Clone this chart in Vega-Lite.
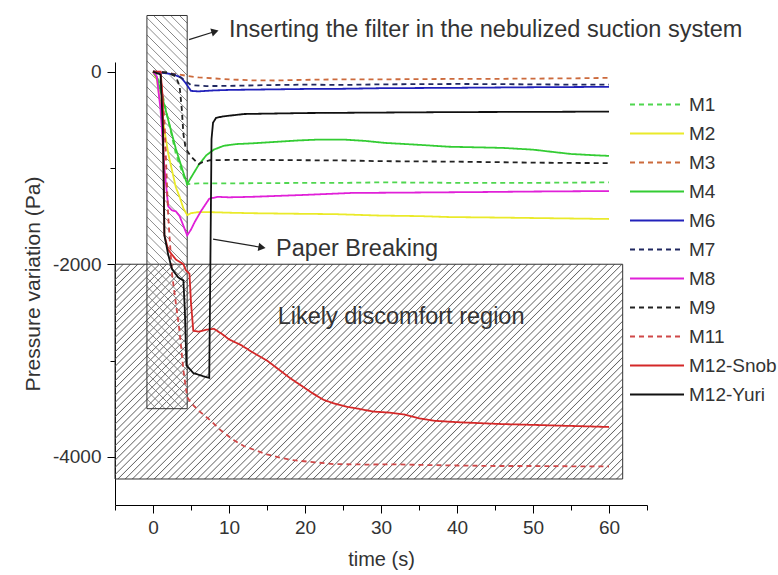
{
"$schema":"https://vega.github.io/schema/vega-lite/v6.json",
"width":532,"height":443,"autosize":"none",
"padding":{"left":115,"top":62,"right":131,"bottom":70},
"background":"white",
"config":{"view":{"stroke":null},"font":"Liberation Sans"},
"resolve":{"axis":{"x":"independent","y":"independent"}},
"encoding":{
"x":{"field":"t","type":"quantitative","scale":{"domain":[-5,65],"nice":false,"zero":false},"axis":null},
"y":{"field":"v","type":"quantitative","scale":{"domain":[-4500,100],"nice":false,"zero":false},"axis":null}
},
"layer":[
{"data":{"values":[{"t":-5,"t2":61.8,"v":-2000,"v2":-4230}]},
"mark":{"type":"rect","stroke":"#333","strokeWidth":1,"fill":{"gradient":"linear","x1":0,"y1":0,"x2":1.207,"y2":0.511,"stops":[
{"offset":0,"color":"#6660"},{"offset":0.0015,"color":"#666"},{"offset":0.003,"color":"#6660"},
{"offset":0.01,"color":"#6660"},{"offset":0.0115,"color":"#666"},{"offset":0.013,"color":"#6660"},
{"offset":0.02,"color":"#6660"},{"offset":0.0215,"color":"#666"},{"offset":0.023,"color":"#6660"},
{"offset":0.03,"color":"#6660"},{"offset":0.0315,"color":"#666"},{"offset":0.033,"color":"#6660"},
{"offset":0.04,"color":"#6660"},{"offset":0.0415,"color":"#666"},{"offset":0.043,"color":"#6660"},
{"offset":0.05,"color":"#6660"},{"offset":0.0515,"color":"#666"},{"offset":0.053,"color":"#6660"},
{"offset":0.06,"color":"#6660"},{"offset":0.0615,"color":"#666"},{"offset":0.063,"color":"#6660"},
{"offset":0.07,"color":"#6660"},{"offset":0.0715,"color":"#666"},{"offset":0.073,"color":"#6660"},
{"offset":0.08,"color":"#6660"},{"offset":0.0815,"color":"#666"},{"offset":0.083,"color":"#6660"},
{"offset":0.09,"color":"#6660"},{"offset":0.0915,"color":"#666"},{"offset":0.093,"color":"#6660"},
{"offset":0.10,"color":"#6660"},{"offset":0.1015,"color":"#666"},{"offset":0.103,"color":"#6660"},
{"offset":0.11,"color":"#6660"},{"offset":0.1115,"color":"#666"},{"offset":0.113,"color":"#6660"},
{"offset":0.12,"color":"#6660"},{"offset":0.1215,"color":"#666"},{"offset":0.123,"color":"#6660"},
{"offset":0.13,"color":"#6660"},{"offset":0.1315,"color":"#666"},{"offset":0.133,"color":"#6660"},
{"offset":0.14,"color":"#6660"},{"offset":0.1415,"color":"#666"},{"offset":0.143,"color":"#6660"},
{"offset":0.15,"color":"#6660"},{"offset":0.1515,"color":"#666"},{"offset":0.153,"color":"#6660"},
{"offset":0.16,"color":"#6660"},{"offset":0.1615,"color":"#666"},{"offset":0.163,"color":"#6660"},
{"offset":0.17,"color":"#6660"},{"offset":0.1715,"color":"#666"},{"offset":0.173,"color":"#6660"},
{"offset":0.18,"color":"#6660"},{"offset":0.1815,"color":"#666"},{"offset":0.183,"color":"#6660"},
{"offset":0.19,"color":"#6660"},{"offset":0.1915,"color":"#666"},{"offset":0.193,"color":"#6660"},
{"offset":0.20,"color":"#6660"},{"offset":0.2015,"color":"#666"},{"offset":0.203,"color":"#6660"},
{"offset":0.21,"color":"#6660"},{"offset":0.2115,"color":"#666"},{"offset":0.213,"color":"#6660"},
{"offset":0.22,"color":"#6660"},{"offset":0.2215,"color":"#666"},{"offset":0.223,"color":"#6660"},
{"offset":0.23,"color":"#6660"},{"offset":0.2315,"color":"#666"},{"offset":0.233,"color":"#6660"},
{"offset":0.24,"color":"#6660"},{"offset":0.2415,"color":"#666"},{"offset":0.243,"color":"#6660"},
{"offset":0.25,"color":"#6660"},{"offset":0.2515,"color":"#666"},{"offset":0.253,"color":"#6660"},
{"offset":0.26,"color":"#6660"},{"offset":0.2615,"color":"#666"},{"offset":0.263,"color":"#6660"},
{"offset":0.27,"color":"#6660"},{"offset":0.2715,"color":"#666"},{"offset":0.273,"color":"#6660"},
{"offset":0.28,"color":"#6660"},{"offset":0.2815,"color":"#666"},{"offset":0.283,"color":"#6660"},
{"offset":0.29,"color":"#6660"},{"offset":0.2915,"color":"#666"},{"offset":0.293,"color":"#6660"},
{"offset":0.30,"color":"#6660"},{"offset":0.3015,"color":"#666"},{"offset":0.303,"color":"#6660"},
{"offset":0.31,"color":"#6660"},{"offset":0.3115,"color":"#666"},{"offset":0.313,"color":"#6660"},
{"offset":0.32,"color":"#6660"},{"offset":0.3215,"color":"#666"},{"offset":0.323,"color":"#6660"},
{"offset":0.33,"color":"#6660"},{"offset":0.3315,"color":"#666"},{"offset":0.333,"color":"#6660"},
{"offset":0.34,"color":"#6660"},{"offset":0.3415,"color":"#666"},{"offset":0.343,"color":"#6660"},
{"offset":0.35,"color":"#6660"},{"offset":0.3515,"color":"#666"},{"offset":0.353,"color":"#6660"},
{"offset":0.36,"color":"#6660"},{"offset":0.3615,"color":"#666"},{"offset":0.363,"color":"#6660"},
{"offset":0.37,"color":"#6660"},{"offset":0.3715,"color":"#666"},{"offset":0.373,"color":"#6660"},
{"offset":0.38,"color":"#6660"},{"offset":0.3815,"color":"#666"},{"offset":0.383,"color":"#6660"},
{"offset":0.39,"color":"#6660"},{"offset":0.3915,"color":"#666"},{"offset":0.393,"color":"#6660"},
{"offset":0.40,"color":"#6660"},{"offset":0.4015,"color":"#666"},{"offset":0.403,"color":"#6660"},
{"offset":0.41,"color":"#6660"},{"offset":0.4115,"color":"#666"},{"offset":0.413,"color":"#6660"},
{"offset":0.42,"color":"#6660"},{"offset":0.4215,"color":"#666"},{"offset":0.423,"color":"#6660"},
{"offset":0.43,"color":"#6660"},{"offset":0.4315,"color":"#666"},{"offset":0.433,"color":"#6660"},
{"offset":0.44,"color":"#6660"},{"offset":0.4415,"color":"#666"},{"offset":0.443,"color":"#6660"},
{"offset":0.45,"color":"#6660"},{"offset":0.4515,"color":"#666"},{"offset":0.453,"color":"#6660"},
{"offset":0.46,"color":"#6660"},{"offset":0.4615,"color":"#666"},{"offset":0.463,"color":"#6660"},
{"offset":0.47,"color":"#6660"},{"offset":0.4715,"color":"#666"},{"offset":0.473,"color":"#6660"},
{"offset":0.48,"color":"#6660"},{"offset":0.4815,"color":"#666"},{"offset":0.483,"color":"#6660"},
{"offset":0.49,"color":"#6660"},{"offset":0.4915,"color":"#666"},{"offset":0.493,"color":"#6660"},
{"offset":0.50,"color":"#6660"},{"offset":0.5015,"color":"#666"},{"offset":0.503,"color":"#6660"},
{"offset":0.51,"color":"#6660"},{"offset":0.5115,"color":"#666"},{"offset":0.513,"color":"#6660"},
{"offset":0.52,"color":"#6660"},{"offset":0.5215,"color":"#666"},{"offset":0.523,"color":"#6660"},
{"offset":0.53,"color":"#6660"},{"offset":0.5315,"color":"#666"},{"offset":0.533,"color":"#6660"},
{"offset":0.54,"color":"#6660"},{"offset":0.5415,"color":"#666"},{"offset":0.543,"color":"#6660"},
{"offset":0.55,"color":"#6660"},{"offset":0.5515,"color":"#666"},{"offset":0.553,"color":"#6660"},
{"offset":0.56,"color":"#6660"},{"offset":0.5615,"color":"#666"},{"offset":0.563,"color":"#6660"},
{"offset":0.57,"color":"#6660"},{"offset":0.5715,"color":"#666"},{"offset":0.573,"color":"#6660"},
{"offset":0.58,"color":"#6660"},{"offset":0.5815,"color":"#666"},{"offset":0.583,"color":"#6660"},
{"offset":0.59,"color":"#6660"},{"offset":0.5915,"color":"#666"},{"offset":0.593,"color":"#6660"},
{"offset":0.60,"color":"#6660"},{"offset":0.6015,"color":"#666"},{"offset":0.603,"color":"#6660"},
{"offset":0.61,"color":"#6660"},{"offset":0.6115,"color":"#666"},{"offset":0.613,"color":"#6660"},
{"offset":0.62,"color":"#6660"},{"offset":0.6215,"color":"#666"},{"offset":0.623,"color":"#6660"},
{"offset":0.63,"color":"#6660"},{"offset":0.6315,"color":"#666"},{"offset":0.633,"color":"#6660"},
{"offset":0.64,"color":"#6660"},{"offset":0.6415,"color":"#666"},{"offset":0.643,"color":"#6660"},
{"offset":0.65,"color":"#6660"},{"offset":0.6515,"color":"#666"},{"offset":0.653,"color":"#6660"},
{"offset":0.66,"color":"#6660"},{"offset":0.6615,"color":"#666"},{"offset":0.663,"color":"#6660"},
{"offset":0.67,"color":"#6660"},{"offset":0.6715,"color":"#666"},{"offset":0.673,"color":"#6660"},
{"offset":0.68,"color":"#6660"},{"offset":0.6815,"color":"#666"},{"offset":0.683,"color":"#6660"},
{"offset":0.69,"color":"#6660"},{"offset":0.6915,"color":"#666"},{"offset":0.693,"color":"#6660"},
{"offset":0.70,"color":"#6660"},{"offset":0.7015,"color":"#666"},{"offset":0.703,"color":"#6660"},
{"offset":0.71,"color":"#6660"},{"offset":0.7115,"color":"#666"},{"offset":0.713,"color":"#6660"},
{"offset":0.72,"color":"#6660"},{"offset":0.7215,"color":"#666"},{"offset":0.723,"color":"#6660"},
{"offset":0.73,"color":"#6660"},{"offset":0.7315,"color":"#666"},{"offset":0.733,"color":"#6660"},
{"offset":0.74,"color":"#6660"},{"offset":0.7415,"color":"#666"},{"offset":0.743,"color":"#6660"},
{"offset":0.75,"color":"#6660"},{"offset":0.7515,"color":"#666"},{"offset":0.753,"color":"#6660"},
{"offset":0.76,"color":"#6660"},{"offset":0.7615,"color":"#666"},{"offset":0.763,"color":"#6660"},
{"offset":0.77,"color":"#6660"},{"offset":0.7715,"color":"#666"},{"offset":0.773,"color":"#6660"},
{"offset":0.78,"color":"#6660"},{"offset":0.7815,"color":"#666"},{"offset":0.783,"color":"#6660"},
{"offset":0.79,"color":"#6660"},{"offset":0.7915,"color":"#666"},{"offset":0.793,"color":"#6660"},
{"offset":0.80,"color":"#6660"},{"offset":0.8015,"color":"#666"},{"offset":0.803,"color":"#6660"},
{"offset":0.81,"color":"#6660"},{"offset":0.8115,"color":"#666"},{"offset":0.813,"color":"#6660"},
{"offset":0.82,"color":"#6660"},{"offset":0.8215,"color":"#666"},{"offset":0.823,"color":"#6660"},
{"offset":0.83,"color":"#6660"},{"offset":0.8315,"color":"#666"},{"offset":0.833,"color":"#6660"},
{"offset":0.84,"color":"#6660"},{"offset":0.8415,"color":"#666"},{"offset":0.843,"color":"#6660"},
{"offset":0.85,"color":"#6660"},{"offset":0.8515,"color":"#666"},{"offset":0.853,"color":"#6660"},
{"offset":0.86,"color":"#6660"},{"offset":0.8615,"color":"#666"},{"offset":0.863,"color":"#6660"},
{"offset":0.87,"color":"#6660"},{"offset":0.8715,"color":"#666"},{"offset":0.873,"color":"#6660"},
{"offset":0.88,"color":"#6660"},{"offset":0.8815,"color":"#666"},{"offset":0.883,"color":"#6660"},
{"offset":0.89,"color":"#6660"},{"offset":0.8915,"color":"#666"},{"offset":0.893,"color":"#6660"},
{"offset":0.90,"color":"#6660"},{"offset":0.9015,"color":"#666"},{"offset":0.903,"color":"#6660"},
{"offset":0.91,"color":"#6660"},{"offset":0.9115,"color":"#666"},{"offset":0.913,"color":"#6660"},
{"offset":0.92,"color":"#6660"},{"offset":0.9215,"color":"#666"},{"offset":0.923,"color":"#6660"},
{"offset":0.93,"color":"#6660"},{"offset":0.9315,"color":"#666"},{"offset":0.933,"color":"#6660"},
{"offset":0.94,"color":"#6660"},{"offset":0.9415,"color":"#666"},{"offset":0.943,"color":"#6660"},
{"offset":0.95,"color":"#6660"},{"offset":0.9515,"color":"#666"},{"offset":0.953,"color":"#6660"},
{"offset":0.96,"color":"#6660"},{"offset":0.9615,"color":"#666"},{"offset":0.963,"color":"#6660"},
{"offset":0.97,"color":"#6660"},{"offset":0.9715,"color":"#666"},{"offset":0.973,"color":"#6660"},
{"offset":0.98,"color":"#6660"},{"offset":0.9815,"color":"#666"},{"offset":0.983,"color":"#6660"},
{"offset":0.99,"color":"#6660"},{"offset":0.9915,"color":"#666"},{"offset":0.993,"color":"#6660"}
]}},
"encoding":{
"x":{"field":"t","type":"quantitative","scale":{"domain":[-5,65],"nice":false,"zero":false},"axis":{"orient":"bottom","title":"time (s)","values":[0,10,20,30,40,50,60],"grid":false,"tickSize":8,"domainColor":"#000","tickColor":"#000","labelFontSize":19,"labelColor":"#333","labelPadding":5,"titleFontSize":20,"titleColor":"#333","titleFontWeight":"normal","titlePadding":12}},
"y":{"field":"v","type":"quantitative","scale":{"domain":[-4500,100],"nice":false,"zero":false},"axis":{"orient":"left","title":"Pressure variation (Pa)","values":[0,-2000,-4000],"labelExpr":"toString(datum.value)","grid":false,"tickSize":8,"domainColor":"#000","tickColor":"#000","labelFontSize":19,"labelColor":"#333","labelPadding":6,"titleFontSize":21,"titleColor":"#333","titleFontWeight":"normal","titlePadding":9}},
"x2":{"field":"t2"},"y2":{"field":"v2"}}},
{"data":{"values":[{"t":-0.8,"t2":4.5,"v":583,"v2":-3500}]},
"mark":{"type":"rect","stroke":"#333","strokeWidth":1,"fill":{"gradient":"linear","x1":0,"y1":1,"x2":0.1118,"y2":-0.091,"stops":[
{"offset":0,"color":"#7770"},{"offset":0.002,"color":"#777"},{"offset":0.004,"color":"#7770"},
{"offset":0.02,"color":"#7770"},{"offset":0.022,"color":"#777"},{"offset":0.024,"color":"#7770"},
{"offset":0.04,"color":"#7770"},{"offset":0.042,"color":"#777"},{"offset":0.044,"color":"#7770"},
{"offset":0.06,"color":"#7770"},{"offset":0.062,"color":"#777"},{"offset":0.064,"color":"#7770"},
{"offset":0.08,"color":"#7770"},{"offset":0.082,"color":"#777"},{"offset":0.084,"color":"#7770"},
{"offset":0.10,"color":"#7770"},{"offset":0.102,"color":"#777"},{"offset":0.104,"color":"#7770"},
{"offset":0.12,"color":"#7770"},{"offset":0.122,"color":"#777"},{"offset":0.124,"color":"#7770"},
{"offset":0.14,"color":"#7770"},{"offset":0.142,"color":"#777"},{"offset":0.144,"color":"#7770"},
{"offset":0.16,"color":"#7770"},{"offset":0.162,"color":"#777"},{"offset":0.164,"color":"#7770"},
{"offset":0.18,"color":"#7770"},{"offset":0.182,"color":"#777"},{"offset":0.184,"color":"#7770"},
{"offset":0.20,"color":"#7770"},{"offset":0.202,"color":"#777"},{"offset":0.204,"color":"#7770"},
{"offset":0.22,"color":"#7770"},{"offset":0.222,"color":"#777"},{"offset":0.224,"color":"#7770"},
{"offset":0.24,"color":"#7770"},{"offset":0.242,"color":"#777"},{"offset":0.244,"color":"#7770"},
{"offset":0.26,"color":"#7770"},{"offset":0.262,"color":"#777"},{"offset":0.264,"color":"#7770"},
{"offset":0.28,"color":"#7770"},{"offset":0.282,"color":"#777"},{"offset":0.284,"color":"#7770"},
{"offset":0.30,"color":"#7770"},{"offset":0.302,"color":"#777"},{"offset":0.304,"color":"#7770"},
{"offset":0.32,"color":"#7770"},{"offset":0.322,"color":"#777"},{"offset":0.324,"color":"#7770"},
{"offset":0.34,"color":"#7770"},{"offset":0.342,"color":"#777"},{"offset":0.344,"color":"#7770"},
{"offset":0.36,"color":"#7770"},{"offset":0.362,"color":"#777"},{"offset":0.364,"color":"#7770"},
{"offset":0.38,"color":"#7770"},{"offset":0.382,"color":"#777"},{"offset":0.384,"color":"#7770"},
{"offset":0.40,"color":"#7770"},{"offset":0.402,"color":"#777"},{"offset":0.404,"color":"#7770"},
{"offset":0.42,"color":"#7770"},{"offset":0.422,"color":"#777"},{"offset":0.424,"color":"#7770"},
{"offset":0.44,"color":"#7770"},{"offset":0.442,"color":"#777"},{"offset":0.444,"color":"#7770"},
{"offset":0.46,"color":"#7770"},{"offset":0.462,"color":"#777"},{"offset":0.464,"color":"#7770"},
{"offset":0.48,"color":"#7770"},{"offset":0.482,"color":"#777"},{"offset":0.484,"color":"#7770"},
{"offset":0.50,"color":"#7770"},{"offset":0.502,"color":"#777"},{"offset":0.504,"color":"#7770"},
{"offset":0.52,"color":"#7770"},{"offset":0.522,"color":"#777"},{"offset":0.524,"color":"#7770"},
{"offset":0.54,"color":"#7770"},{"offset":0.542,"color":"#777"},{"offset":0.544,"color":"#7770"},
{"offset":0.56,"color":"#7770"},{"offset":0.562,"color":"#777"},{"offset":0.564,"color":"#7770"},
{"offset":0.58,"color":"#7770"},{"offset":0.582,"color":"#777"},{"offset":0.584,"color":"#7770"},
{"offset":0.60,"color":"#7770"},{"offset":0.602,"color":"#777"},{"offset":0.604,"color":"#7770"},
{"offset":0.62,"color":"#7770"},{"offset":0.622,"color":"#777"},{"offset":0.624,"color":"#7770"},
{"offset":0.64,"color":"#7770"},{"offset":0.642,"color":"#777"},{"offset":0.644,"color":"#7770"},
{"offset":0.66,"color":"#7770"},{"offset":0.662,"color":"#777"},{"offset":0.664,"color":"#7770"},
{"offset":0.68,"color":"#7770"},{"offset":0.682,"color":"#777"},{"offset":0.684,"color":"#7770"},
{"offset":0.70,"color":"#7770"},{"offset":0.702,"color":"#777"},{"offset":0.704,"color":"#7770"},
{"offset":0.72,"color":"#7770"},{"offset":0.722,"color":"#777"},{"offset":0.724,"color":"#7770"},
{"offset":0.74,"color":"#7770"},{"offset":0.742,"color":"#777"},{"offset":0.744,"color":"#7770"},
{"offset":0.76,"color":"#7770"},{"offset":0.762,"color":"#777"},{"offset":0.764,"color":"#7770"},
{"offset":0.78,"color":"#7770"},{"offset":0.782,"color":"#777"},{"offset":0.784,"color":"#7770"},
{"offset":0.80,"color":"#7770"},{"offset":0.802,"color":"#777"},{"offset":0.804,"color":"#7770"},
{"offset":0.82,"color":"#7770"},{"offset":0.822,"color":"#777"},{"offset":0.824,"color":"#7770"},
{"offset":0.84,"color":"#7770"},{"offset":0.842,"color":"#777"},{"offset":0.844,"color":"#7770"},
{"offset":0.86,"color":"#7770"},{"offset":0.862,"color":"#777"},{"offset":0.864,"color":"#7770"},
{"offset":0.88,"color":"#7770"},{"offset":0.882,"color":"#777"},{"offset":0.884,"color":"#7770"},
{"offset":0.90,"color":"#7770"},{"offset":0.902,"color":"#777"},{"offset":0.904,"color":"#7770"},
{"offset":0.92,"color":"#7770"},{"offset":0.922,"color":"#777"},{"offset":0.924,"color":"#7770"},
{"offset":0.94,"color":"#7770"},{"offset":0.942,"color":"#777"},{"offset":0.944,"color":"#7770"},
{"offset":0.96,"color":"#7770"},{"offset":0.962,"color":"#777"},{"offset":0.964,"color":"#7770"},
{"offset":0.98,"color":"#7770"},{"offset":0.982,"color":"#777"},{"offset":0.984,"color":"#7770"}
]}},
"encoding":{
"x":{"field":"t","type":"quantitative","scale":{"domain":[-5,65],"nice":false,"zero":false},"axis":{"orient":"bottom","title":null,"values":[-5,5,15,25,35,45,55,65],"labels":false,"domain":false,"grid":false,"tickSize":5,"tickColor":"#000"}},
"y":{"field":"v","type":"quantitative","scale":{"domain":[-4500,100],"nice":false,"zero":false},"axis":{"orient":"left","title":null,"values":[-1000,-3000],"labels":false,"domain":false,"grid":false,"tickSize":5,"tickColor":"#000"}},
"x2":{"field":"t2"},"y2":{"field":"v2"}}},
{"data":{"values":[
{"s":"M1","t":0,"v":0},{"s":"M1","t":0.5,"v":-30},{"s":"M1","t":1,"v":-150},{"s":"M1","t":2,"v":-500},{"s":"M1","t":3,"v":-850},{"s":"M1","t":4,"v":-1080},{"s":"M1","t":4.5,"v":-1170},{"s":"M1","t":5,"v":-1165},{"s":"M1","t":6,"v":-1160},{"s":"M1","t":10,"v":-1160},{"s":"M1","t":15,"v":-1158},{"s":"M1","t":20,"v":-1155},{"s":"M1","t":25,"v":-1155},{"s":"M1","t":30,"v":-1150},{"s":"M1","t":35,"v":-1152},{"s":"M1","t":40,"v":-1155},{"s":"M1","t":45,"v":-1155},{"s":"M1","t":50,"v":-1155},{"s":"M1","t":55,"v":-1152},{"s":"M1","t":60,"v":-1150},
{"s":"M2","t":0,"v":0},{"s":"M2","t":0.5,"v":-80},{"s":"M2","t":1,"v":-350},{"s":"M2","t":2,"v":-850},{"s":"M2","t":3,"v":-1200},{"s":"M2","t":3.5,"v":-1300},{"s":"M2","t":4,"v":-1420},{"s":"M2","t":4.5,"v":-1490},{"s":"M2","t":5,"v":-1470},{"s":"M2","t":6,"v":-1458},{"s":"M2","t":8,"v":-1460},{"s":"M2","t":10,"v":-1465},{"s":"M2","t":13,"v":-1470},{"s":"M2","t":18,"v":-1475},{"s":"M2","t":24,"v":-1480},{"s":"M2","t":30,"v":-1495},{"s":"M2","t":35,"v":-1500},{"s":"M2","t":39,"v":-1510},{"s":"M2","t":45,"v":-1515},{"s":"M2","t":50,"v":-1520},{"s":"M2","t":55,"v":-1525},{"s":"M2","t":60,"v":-1530},
{"s":"M3","t":0,"v":0},{"s":"M3","t":1.5,"v":-10},{"s":"M3","t":2.5,"v":-20},{"s":"M3","t":3.5,"v":-30},{"s":"M3","t":4.5,"v":-45},{"s":"M3","t":6,"v":-60},{"s":"M3","t":8,"v":-70},{"s":"M3","t":10,"v":-80},{"s":"M3","t":13,"v":-90},{"s":"M3","t":16,"v":-92},{"s":"M3","t":20,"v":-85},{"s":"M3","t":25,"v":-80},{"s":"M3","t":30,"v":-80},{"s":"M3","t":35,"v":-78},{"s":"M3","t":40,"v":-75},{"s":"M3","t":45,"v":-75},{"s":"M3","t":50,"v":-72},{"s":"M3","t":55,"v":-70},{"s":"M3","t":60,"v":-65},
{"s":"M4","t":0,"v":0},{"s":"M4","t":0.5,"v":-60},{"s":"M4","t":1,"v":-200},{"s":"M4","t":2,"v":-500},{"s":"M4","t":3,"v":-800},{"s":"M4","t":4,"v":-1050},{"s":"M4","t":4.5,"v":-1170},{"s":"M4","t":5,"v":-1100},{"s":"M4","t":6,"v":-970},{"s":"M4","t":7,"v":-870},{"s":"M4","t":8,"v":-810},{"s":"M4","t":9.3,"v":-770},{"s":"M4","t":11,"v":-752},{"s":"M4","t":13,"v":-745},{"s":"M4","t":16,"v":-730},{"s":"M4","t":19,"v":-715},{"s":"M4","t":22,"v":-705},{"s":"M4","t":25,"v":-705},{"s":"M4","t":28,"v":-720},{"s":"M4","t":30.5,"v":-740},{"s":"M4","t":35,"v":-760},{"s":"M4","t":39,"v":-780},{"s":"M4","t":42,"v":-785},{"s":"M4","t":46,"v":-792},{"s":"M4","t":50,"v":-810},{"s":"M4","t":52.5,"v":-833},{"s":"M4","t":55,"v":-855},{"s":"M4","t":58,"v":-868},{"s":"M4","t":60,"v":-875},
{"s":"M6","t":0,"v":0},{"s":"M6","t":1,"v":-10},{"s":"M6","t":2,"v":-20},{"s":"M6","t":3,"v":-40},{"s":"M6","t":3.7,"v":-60},{"s":"M6","t":4.3,"v":-120},{"s":"M6","t":5,"v":-200},{"s":"M6","t":6,"v":-205},{"s":"M6","t":8,"v":-195},{"s":"M6","t":10,"v":-190},{"s":"M6","t":13,"v":-187},{"s":"M6","t":20,"v":-180},{"s":"M6","t":25,"v":-178},{"s":"M6","t":30,"v":-172},{"s":"M6","t":35,"v":-170},{"s":"M6","t":40,"v":-168},{"s":"M6","t":45,"v":-165},{"s":"M6","t":50,"v":-162},{"s":"M6","t":55,"v":-160},{"s":"M6","t":60,"v":-158},
{"s":"M7","t":0,"v":0},{"s":"M7","t":1,"v":-5},{"s":"M7","t":2,"v":-15},{"s":"M7","t":3,"v":-30},{"s":"M7","t":4,"v":-80},{"s":"M7","t":5,"v":-140},{"s":"M7","t":7,"v":-150},{"s":"M7","t":10,"v":-148},{"s":"M7","t":15,"v":-140},{"s":"M7","t":20,"v":-135},{"s":"M7","t":25,"v":-138},{"s":"M7","t":30,"v":-132},{"s":"M7","t":35,"v":-130},{"s":"M7","t":40,"v":-128},{"s":"M7","t":45,"v":-130},{"s":"M7","t":50,"v":-132},{"s":"M7","t":55,"v":-135},{"s":"M7","t":60,"v":-135},
{"s":"M8","t":0,"v":0},{"s":"M8","t":0.5,"v":-50},{"s":"M8","t":1,"v":-400},{"s":"M8","t":1.5,"v":-1000},{"s":"M8","t":2,"v":-1400},{"s":"M8","t":2.5,"v":-1440},{"s":"M8","t":3,"v":-1450},{"s":"M8","t":3.5,"v":-1500},{"s":"M8","t":4,"v":-1600},{"s":"M8","t":4.5,"v":-1700},{"s":"M8","t":5,"v":-1640},{"s":"M8","t":5.5,"v":-1560},{"s":"M8","t":6.3,"v":-1450},{"s":"M8","t":7.4,"v":-1320},{"s":"M8","t":8.5,"v":-1300},{"s":"M8","t":10,"v":-1305},{"s":"M8","t":13,"v":-1300},{"s":"M8","t":20,"v":-1280},{"s":"M8","t":26,"v":-1260},{"s":"M8","t":35,"v":-1255},{"s":"M8","t":43.6,"v":-1250},{"s":"M8","t":50,"v":-1245},{"s":"M8","t":60,"v":-1240},
{"s":"M9","t":0,"v":0},{"s":"M9","t":2,"v":-10},{"s":"M9","t":3,"v":-50},{"s":"M9","t":3.5,"v":-150},{"s":"M9","t":3.8,"v":-400},{"s":"M9","t":4,"v":-650},{"s":"M9","t":4.3,"v":-800},{"s":"M9","t":5,"v":-880},{"s":"M9","t":6,"v":-960},{"s":"M9","t":6.5,"v":-940},{"s":"M9","t":7.5,"v":-920},{"s":"M9","t":10,"v":-917},{"s":"M9","t":15,"v":-917},{"s":"M9","t":20,"v":-920},{"s":"M9","t":25,"v":-922},{"s":"M9","t":30,"v":-930},{"s":"M9","t":35,"v":-932},{"s":"M9","t":40,"v":-935},{"s":"M9","t":45,"v":-940},{"s":"M9","t":50,"v":-945},{"s":"M9","t":55,"v":-948},{"s":"M9","t":60,"v":-950},
{"s":"M11","t":0,"v":0},{"s":"M11","t":1,"v":-20},{"s":"M11","t":1.5,"v":-500},{"s":"M11","t":2,"v":-1500},{"s":"M11","t":2.5,"v":-2100},{"s":"M11","t":3,"v":-2400},{"s":"M11","t":3.5,"v":-2700},{"s":"M11","t":4,"v":-3100},{"s":"M11","t":4.5,"v":-3380},{"s":"M11","t":5,"v":-3440},{"s":"M11","t":6,"v":-3520},{"s":"M11","t":7.6,"v":-3625},{"s":"M11","t":9,"v":-3730},{"s":"M11","t":10.7,"v":-3830},{"s":"M11","t":12,"v":-3890},{"s":"M11","t":13.8,"v":-3940},{"s":"M11","t":15,"v":-3975},{"s":"M11","t":16.8,"v":-4010},{"s":"M11","t":18.5,"v":-4035},{"s":"M11","t":20.4,"v":-4050},{"s":"M11","t":23.8,"v":-4075},{"s":"M11","t":28,"v":-4080},{"s":"M11","t":32,"v":-4078},{"s":"M11","t":36,"v":-4085},{"s":"M11","t":40,"v":-4090},{"s":"M11","t":45,"v":-4095},{"s":"M11","t":50,"v":-4095},{"s":"M11","t":55,"v":-4098},{"s":"M11","t":60,"v":-4100},
{"s":"M12-Snob","t":0,"v":0},{"s":"M12-Snob","t":1,"v":0},{"s":"M12-Snob","t":1.3,"v":-300},{"s":"M12-Snob","t":1.5,"v":-1700},{"s":"M12-Snob","t":2,"v":-1850},{"s":"M12-Snob","t":3,"v":-1950},{"s":"M12-Snob","t":4,"v":-2000},{"s":"M12-Snob","t":4.3,"v":-2060},{"s":"M12-Snob","t":4.8,"v":-2100},{"s":"M12-Snob","t":5,"v":-2400},{"s":"M12-Snob","t":5.3,"v":-2690},{"s":"M12-Snob","t":6,"v":-2700},{"s":"M12-Snob","t":7,"v":-2680},{"s":"M12-Snob","t":8,"v":-2670},{"s":"M12-Snob","t":9,"v":-2720},{"s":"M12-Snob","t":10,"v":-2780},{"s":"M12-Snob","t":11.6,"v":-2840},{"s":"M12-Snob","t":13,"v":-2910},{"s":"M12-Snob","t":15,"v":-3000},{"s":"M12-Snob","t":16.5,"v":-3090},{"s":"M12-Snob","t":18,"v":-3180},{"s":"M12-Snob","t":19.5,"v":-3260},{"s":"M12-Snob","t":21,"v":-3340},{"s":"M12-Snob","t":22.5,"v":-3410},{"s":"M12-Snob","t":24,"v":-3450},{"s":"M12-Snob","t":25.5,"v":-3480},{"s":"M12-Snob","t":27,"v":-3500},{"s":"M12-Snob","t":29,"v":-3530},{"s":"M12-Snob","t":31,"v":-3540},{"s":"M12-Snob","t":33,"v":-3560},{"s":"M12-Snob","t":35,"v":-3600},{"s":"M12-Snob","t":37,"v":-3625},{"s":"M12-Snob","t":40,"v":-3640},{"s":"M12-Snob","t":43,"v":-3650},{"s":"M12-Snob","t":46,"v":-3660},{"s":"M12-Snob","t":50,"v":-3668},{"s":"M12-Snob","t":54,"v":-3677},{"s":"M12-Snob","t":57,"v":-3683},{"s":"M12-Snob","t":60,"v":-3690},
{"s":"M12-Yuri","t":0,"v":0},{"s":"M12-Yuri","t":1,"v":-30},{"s":"M12-Yuri","t":1.3,"v":-600},{"s":"M12-Yuri","t":1.5,"v":-1700},{"s":"M12-Yuri","t":2,"v":-1900},{"s":"M12-Yuri","t":2.5,"v":-2050},{"s":"M12-Yuri","t":3.3,"v":-2135},{"s":"M12-Yuri","t":4,"v":-2170},{"s":"M12-Yuri","t":4.2,"v":-2500},{"s":"M12-Yuri","t":4.4,"v":-3050},{"s":"M12-Yuri","t":5.3,"v":-3130},{"s":"M12-Yuri","t":6.5,"v":-3160},{"s":"M12-Yuri","t":7.4,"v":-3180},{"s":"M12-Yuri","t":7.55,"v":-2000},{"s":"M12-Yuri","t":7.7,"v":-700},{"s":"M12-Yuri","t":7.9,"v":-530},{"s":"M12-Yuri","t":8.3,"v":-480},{"s":"M12-Yuri","t":9.2,"v":-465},{"s":"M12-Yuri","t":12,"v":-440},{"s":"M12-Yuri","t":20,"v":-430},{"s":"M12-Yuri","t":30,"v":-425},{"s":"M12-Yuri","t":40,"v":-420},{"s":"M12-Yuri","t":50,"v":-418},{"s":"M12-Yuri","t":60,"v":-415}
]},
"mark":{"type":"line","strokeWidth":1.8},
"encoding":{
"color":{"field":"s","type":"nominal","sort":null,"scale":{"domain":["M1","M2","M3","M4","M6","M7","M8","M9","M11","M12-Snob","M12-Yuri"],"range":["#4fd64f","#eaea2a","#cc6a3c","#33cc33","#2222bb","#202860","#e020d8","#222222","#d04848","#d42828","#111111"]},"legend":{"title":null,"orient":"none","legendX":514,"legendY":28,"symbolType":"stroke","symbolSize":2916,"symbolStrokeWidth":2,"labelFontSize":19,"labelColor":"#333","labelOffset":4,"clipHeight":29,"rowPadding":0,"padding":0}},
"strokeDash":{"field":"s","type":"nominal","sort":null,"scale":{"domain":["M1","M2","M3","M4","M6","M7","M8","M9","M11","M12-Snob","M12-Yuri"],"range":[[5,4],[1,0],[5,4],[1,0],[1,0],[5,4],[1,0],[5,4],[5,4],[1,0],[1,0]]},"legend":{"title":null,"orient":"none","legendX":514,"legendY":28,"symbolType":"stroke","symbolSize":2916,"symbolStrokeWidth":2,"labelFontSize":19,"labelColor":"#333","labelOffset":4,"clipHeight":29,"rowPadding":0,"padding":0}}
}},
{"data":{"values":[{"t":4.74,"v":333,"t2":8.16,"v2":417},{"t":7.9,"v":-1740,"t2":14.34,"v2":-1826}]},
"mark":{"type":"rule","color":"#222","strokeWidth":1.2},
"encoding":{"x2":{"field":"t2"},"y2":{"field":"v2"}}},
{"data":{"values":[{"t":8.16,"v":417}]},
"mark":{"type":"point","shape":"triangle-right","filled":true,"color":"#222","size":70,"angle":343,"opacity":1},"encoding":{}},
{"data":{"values":[{"t":14.34,"v":-1826}]},
"mark":{"type":"point","shape":"triangle-right","filled":true,"color":"#222","size":70,"angle":10,"opacity":1},"encoding":{}},
{"data":{"values":[{"t":10,"v":430,"label":"Inserting the filter in the nebulized suction system"},{"t":16.2,"v":-1845,"label":"Paper Breaking"},{"t":16.4,"v":-2550,"label":"Likely discomfort region"}]},
"mark":{"type":"text","align":"left","baseline":"middle","fontSize":23.5,"color":"#333"},
"encoding":{"text":{"field":"label"}}}
]
}
